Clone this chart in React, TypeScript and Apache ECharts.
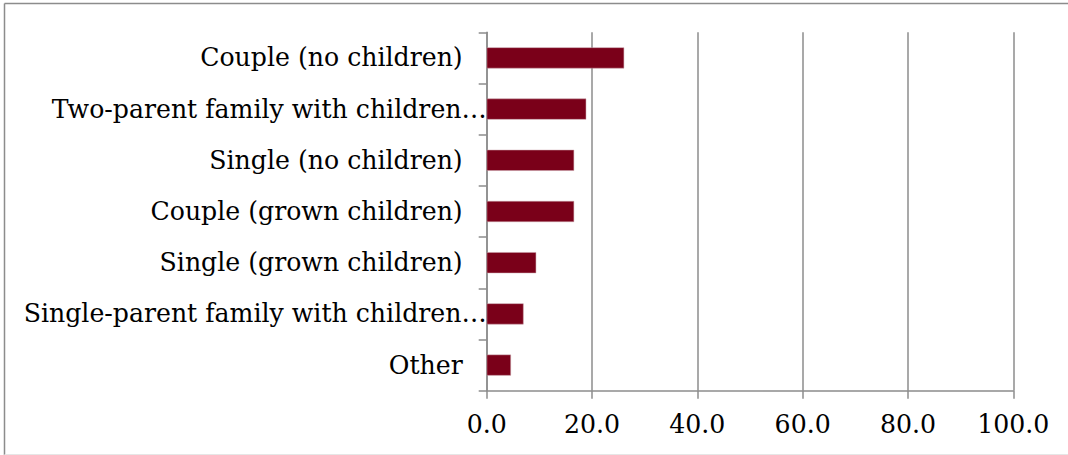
import React, { useEffect, useRef } from "react";
import * as echarts from "echarts";

const categories = [
  "Couple (no children)",
  "Two-parent family with children…",
  "Single (no children)",
  "Couple (grown children)",
  "Single (grown children)",
  "Single-parent family with children…",
  "Other",
];
const values = [26.1, 18.9, 16.6, 16.6, 9.4, 7.0, 4.6];
const xTicks = { min: 0, max: 100, interval: 20 };

const FONT = "DejaVu Serif";
const FS = 25.2;

export default function App() {
  const ref = useRef<HTMLDivElement>(null);
  useEffect(() => {
    document.body.style.margin = "0";
    const chart = echarts.init(ref.current!, null, { renderer: "svg" });
    const cats = [...categories].reverse();
    const vals = [...values].reverse();
    chart.setOption({
      animation: false,
      backgroundColor: "#ffffff",
      grid: { left: 486.7, right: 54.7, top: 32.3, bottom: 64.3, containLabel: false },
      xAxis: {
        type: "value",
        min: xTicks.min,
        max: xTicks.max,
        interval: xTicks.interval,
        axisLine: { show: true, lineStyle: { color: "#8c8c8c", width: 1.5 } },
        axisTick: { show: true, length: 8, lineStyle: { color: "#8c8c8c", width: 1.5 } },
        splitLine: { show: true, lineStyle: { color: "#8c8c8c", width: 1.5 } },
        axisLabel: {
          margin: 21,
          color: "#000",
          fontFamily: FONT,
          fontSize: FS,
          formatter: (v: number) => v.toFixed(1),
        },
      },
      yAxis: {
        type: "category",
        data: cats,
        boundaryGap: true,
        axisLine: { show: true, lineStyle: { color: "#8c8c8c", width: 1.5 } },
        axisTick: { show: true, length: 8, lineStyle: { color: "#8c8c8c", width: 1.5 } },
        splitLine: { show: false },
        axisLabel: {
          margin: 0,
          color: "#000",
          fontFamily: FONT,
          fontSize: FS,
          formatter: (v: string) =>
            v.endsWith("…") ? `{t|${v}}` : `{t|${v}}{s|}`,
          rich: {
            t: { fontFamily: FONT, fontSize: FS, color: "#000" },
            s: { width: 24 },
          },
        },
      },
      series: [
        {
          type: "bar",
          data: vals,
          barWidth: 21,
          itemStyle: { color: "#7a0019", borderColor: "#c9a0a8", borderWidth: 0.5 },
        },
      ],
      graphic: [
        {
          type: "line",
          shape: { x1: 4.5, y1: 3.5, x2: 1068, y2: 3.5 },
          style: { stroke: "#8c8c8c", lineWidth: 1.5 },
          silent: true,
        },
        {
          type: "line",
          shape: { x1: 4.5, y1: 3.5, x2: 4.5, y2: 455 },
          style: { stroke: "#8c8c8c", lineWidth: 1.5 },
          silent: true,
        },
        {
          type: "line",
          shape: { x1: 4.5, y1: 454.5, x2: 1068, y2: 454.5 },
          style: { stroke: "#e6e6e6", lineWidth: 1 },
          silent: true,
        },
      ],
    });
    return () => chart.dispose();
  }, []);
  return <div ref={ref} style={{ width: 1068, height: 455 }} />;
}
